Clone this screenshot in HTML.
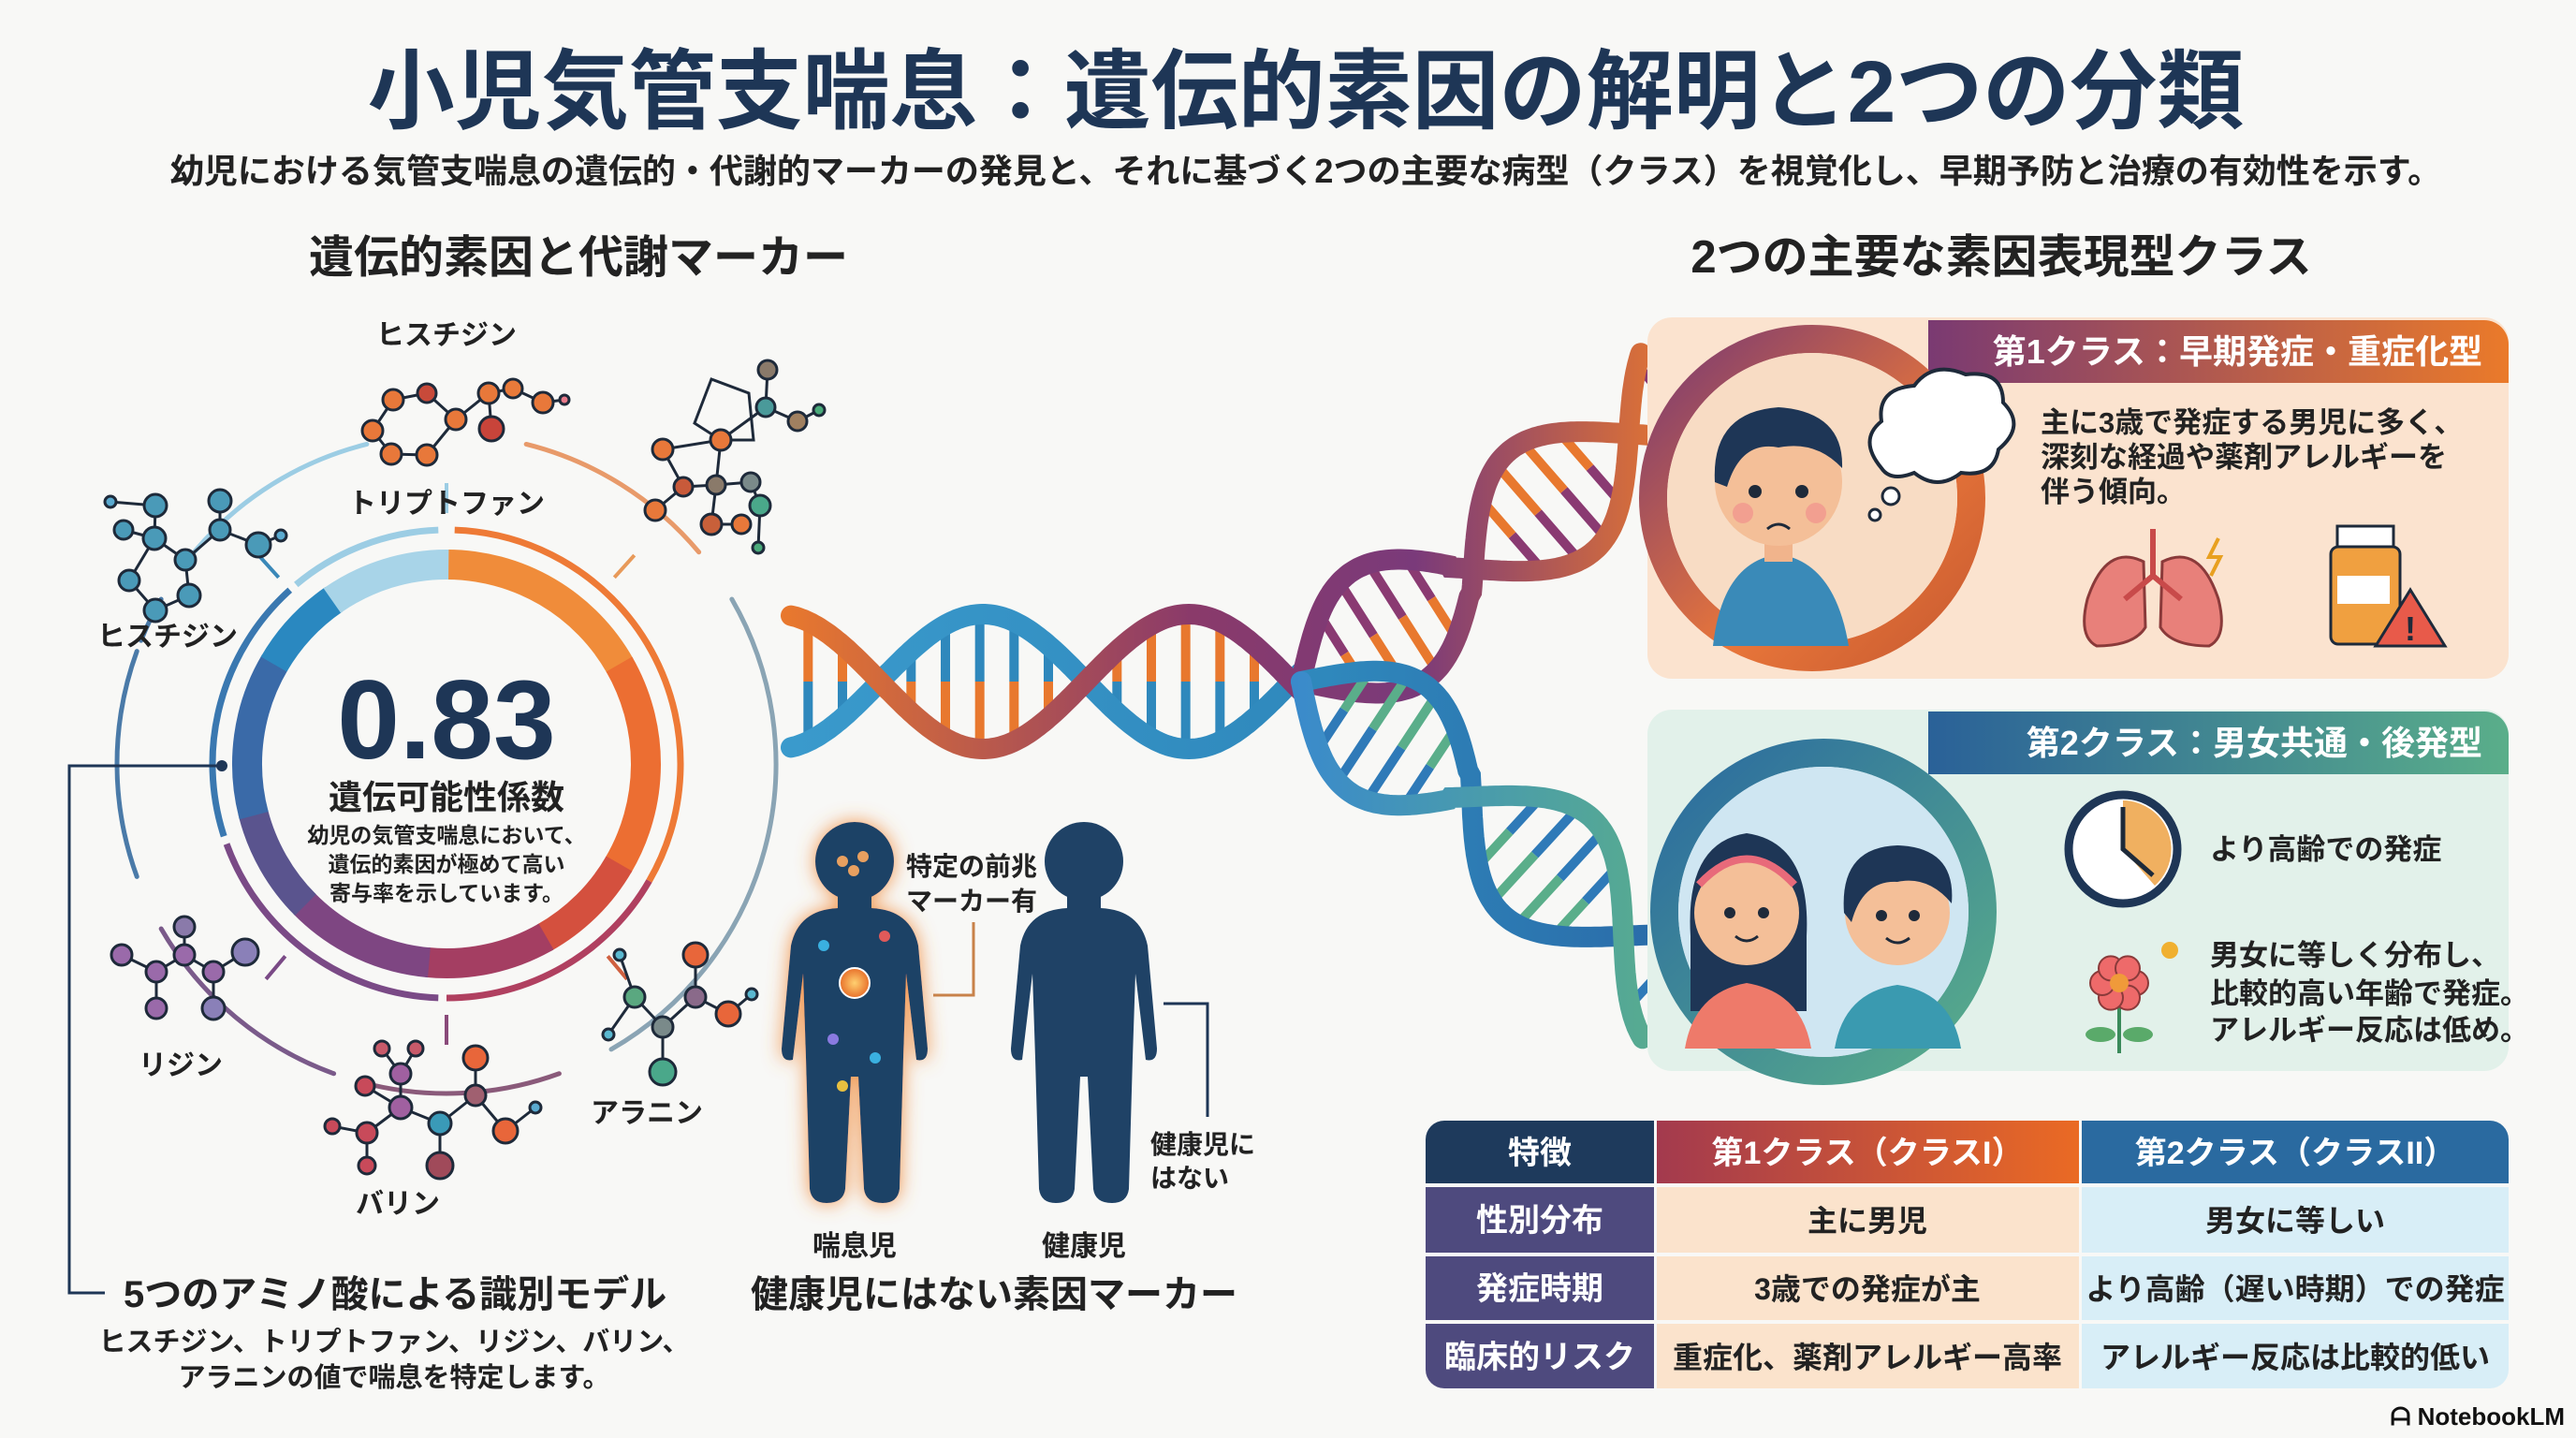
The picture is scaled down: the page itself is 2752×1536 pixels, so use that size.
<!DOCTYPE html>
<html><head><meta charset="utf-8">
<style>
html,body{margin:0;padding:0;background:#f8f8f6;}
svg{display:block;}
text{font-family:"Liberation Sans","Noto Sans CJK JP",sans-serif;font-weight:700;}
</style></head>
<body>
<svg id="s" width="2752" height="1536" viewBox="0 0 2752 1536" xmlns="http://www.w3.org/2000/svg">
<defs>
<linearGradient id="h1" x1="0" x2="1"><stop offset="0" stop-color="#7a3a72"/><stop offset="1" stop-color="#ea7a2a"/></linearGradient>
<linearGradient id="h2" x1="0" x2="1"><stop offset="0" stop-color="#2a6198"/><stop offset="1" stop-color="#5aae8a"/></linearGradient>
<linearGradient id="t2" x1="0" x2="1"><stop offset="0" stop-color="#a33a4e"/><stop offset="1" stop-color="#ea6a24"/></linearGradient>
<linearGradient id="r1" x1="0" y1="0" x2="1" y2="1"><stop offset="0" stop-color="#7a3a72"/><stop offset="0.6" stop-color="#e8763a"/><stop offset="1" stop-color="#c85a30"/></linearGradient>
<linearGradient id="r2" x1="0" y1="0" x2="1" y2="1"><stop offset="0" stop-color="#2a6aa0"/><stop offset="1" stop-color="#5aae8a"/></linearGradient>
<linearGradient id="sA" gradientUnits="userSpaceOnUse" x1="840" y1="0" x2="1800" y2="0"><stop offset="0" stop-color="#e8782e"/><stop offset="0.45" stop-color="#8a3a6a"/><stop offset="0.7" stop-color="#7a3a7a"/><stop offset="1" stop-color="#e8782e"/></linearGradient>
<linearGradient id="sB" gradientUnits="userSpaceOnUse" x1="840" y1="0" x2="1800" y2="0"><stop offset="0" stop-color="#3a9acc"/><stop offset="0.6" stop-color="#2f88bc"/><stop offset="1" stop-color="#2a6aa8"/></linearGradient>
<linearGradient id="sC" gradientUnits="userSpaceOnUse" x1="1380" y1="0" x2="1800" y2="0"><stop offset="0" stop-color="#3a8acc"/><stop offset="1" stop-color="#5aae8a"/></linearGradient>
<filter id="glow" x="-30%" y="-30%" width="160%" height="160%"><feDropShadow dx="0" dy="0" stdDeviation="10" flood-color="#f08a3a" flood-opacity="0.9"/></filter>
<radialGradient id="orb"><stop offset="0" stop-color="#ffd070"/><stop offset="1" stop-color="#e8702a"/></radialGradient>
</defs>

<text x="1395" y="130" font-size="93" fill="#1e3656" text-anchor="middle">小児気管支喘息：遺伝的素因の解明と2つの分類</text>
<text x="1395" y="195" font-size="36" fill="#222" text-anchor="middle">幼児における気管支喘息の遺伝的・代謝的マーカーの発見と、それに基づく2つの主要な病型（クラス）を視覚化し、早期予防と治療の有効性を示す。</text>
<text x="618" y="291" font-size="48" fill="#222" text-anchor="middle">遺伝的素因と代謝マーカー</text>
<text x="2138" y="291" font-size="49" fill="#222" text-anchor="middle">2つの主要な素因表現型クラス</text>

<g id="left"></g>
<g id="dna"></g>

<text x="477" y="810" font-size="120" fill="#1e3656" text-anchor="middle" font-weight="900">0.83</text>
<text x="477" y="864" font-size="36" fill="#222" text-anchor="middle">遺伝可能性係数</text>
<text x="477" y="900" font-size="23" fill="#222" text-anchor="middle">幼児の気管支喘息において、</text>
<text x="477" y="931" font-size="23" fill="#222" text-anchor="middle">遺伝的素因が極めて高い</text>
<text x="477" y="962" font-size="23" fill="#222" text-anchor="middle">寄与率を示しています。</text>

<g font-size="30" fill="#222" text-anchor="middle">
<text x="477" y="368">ヒスチジン</text>
<text x="477" y="548">トリプトファン</text>
<text x="179" y="690">ヒスチジン</text>
<text x="193" y="1148">リジン</text>
<text x="425" y="1296">バリン</text>
<text x="691" y="1199">アラニン</text>
</g>

<polyline points="237,818 74,818 74,1381 112,1381" fill="none" stroke="#1e3656" stroke-width="3"/>
<circle cx="237" cy="818" r="6" fill="#1e3656"/>
<text x="132" y="1396" font-size="40" fill="#222">5つのアミノ酸による識別モデル</text>
<text x="421" y="1443" font-size="29" fill="#222" text-anchor="middle">ヒスチジン、トリプトファン、リジン、バリン、</text>
<text x="421" y="1481" font-size="29" fill="#222" text-anchor="middle">アラニンの値で喘息を特定します。</text>

<g id="kids"></g>
<text x="913" y="1341" font-size="30" fill="#222" text-anchor="middle">喘息児</text>
<text x="1158" y="1341" font-size="30" fill="#222" text-anchor="middle">健康児</text>
<text x="1062" y="1396" font-size="40" fill="#222" text-anchor="middle">健康児にはない素因マーカー</text>
<text x="968" y="935" font-size="28" fill="#222">特定の前兆</text>
<text x="968" y="972" font-size="28" fill="#222">マーカー有</text>
<polyline points="997,1063 1040,1063 1040,985" fill="none" stroke="#c8824a" stroke-width="3"/>
<text x="1229" y="1232" font-size="28" fill="#222">健康児に</text>
<text x="1229" y="1268" font-size="28" fill="#222">はない</text>
<polyline points="1243,1072 1290,1072 1290,1193" fill="none" stroke="#1e3656" stroke-width="3"/>

<rect x="1760" y="339" width="920" height="386" rx="26" fill="#fbe3cf"/>
<path d="M2060 342 H2654 a26 26 0 0 1 26 26 V409 H2060 Z" fill="url(#h1)"/>
<text x="2652" y="388" font-size="36" fill="#fff" text-anchor="end">第1クラス：早期発症・重症化型</text>
<g font-size="31" fill="#222">
<text x="2180" y="462">主に3歳で発症する男児に多く、</text>
<text x="2180" y="499">深刻な経過や薬剤アレルギーを</text>
<text x="2180" y="536">伴う傾向。</text>
</g>
<rect x="1760" y="758" width="920" height="386" rx="26" fill="#e2f1ea"/>
<path d="M2060 760 H2654 a26 26 0 0 1 26 26 V827 H2060 Z" fill="url(#h2)"/>
<text x="2652" y="806" font-size="36" fill="#fff" text-anchor="end">第2クラス：男女共通・後発型</text>
<g font-size="31" fill="#222">
<text x="2361" y="918">より高齢での発症</text>
<text x="2361" y="1031">男女に等しく分布し、</text>
<text x="2361" y="1072">比較的高い年齢で発症。</text>
<text x="2361" y="1111">アレルギー反応は低め。</text>
</g>

<g id="pics"></g>

<g>
<path d="M1543 1197 H1767 V1264 H1523 V1217 a20 20 0 0 1 20 -20Z" fill="#1e3a5c"/>
<rect x="1770" y="1197" width="451" height="67" fill="url(#t2)"/>
<path d="M2224 1197 H2660 a20 20 0 0 1 20 20 V1264 H2224Z" fill="#2a6aa0"/>
<rect x="1523" y="1268" width="244" height="70" fill="#4e4a7e"/>
<rect x="1523" y="1342" width="244" height="68" fill="#4e4a7e"/>
<path d="M1523 1414 H1767 V1483 H1543 a20 20 0 0 1 -20 -20Z" fill="#4e4a7e"/>
<rect x="1770" y="1268" width="451" height="70" fill="#fbe3cc"/>
<rect x="1770" y="1342" width="451" height="68" fill="#fbe3cc"/>
<rect x="1770" y="1414" width="451" height="69" fill="#fbe3cc"/>
<rect x="2224" y="1268" width="456" height="70" fill="#d8eef7"/>
<rect x="2224" y="1342" width="456" height="68" fill="#d8eef7"/>
<path d="M2224 1414 H2680 V1463 a20 20 0 0 1 -20 20 H2224Z" fill="#d8eef7"/>
<g font-size="34" text-anchor="middle">
<text x="1645" y="1243" fill="#fff">特徴</text>
<text x="1995" y="1243" fill="#fff">第1クラス（クラスI）</text>
<text x="2452" y="1243" fill="#fff">第2クラス（クラスII）</text>
<text x="1645" y="1315" fill="#fff">性別分布</text>
<text x="1645" y="1388" fill="#fff">発症時期</text>
<text x="1645" y="1461" fill="#fff">臨床的リスク</text>
<text x="1995" y="1315" fill="#222" font-size="32">主に男児</text>
<text x="1995" y="1388" fill="#222" font-size="32">3歳での発症が主</text>
<text x="1995" y="1461" fill="#222" font-size="32">重症化、薬剤アレルギー高率</text>
<text x="2452" y="1315" fill="#222" font-size="32">男女に等しい</text>
<text x="2452" y="1388" fill="#222" font-size="32">より高齢（遅い時期）での発症</text>
<text x="2452" y="1461" fill="#222" font-size="32">アレルギー反応は比較的低い</text>
</g>
</g>
<text x="2740" y="1522" font-size="26" fill="#111" text-anchor="end" font-weight="400">ᗩ NotebookLM</text>
</svg>
<script>
var NS="http://www.w3.org/2000/svg";
function el(p,t,a){var e=document.createElementNS(NS,t);for(var k in a)e.setAttribute(k,a[k]);p.appendChild(e);return e;}
var L=document.getElementById('left');
function arc(cx,cy,r,a0,a1,col,w,cap){var p=function(a){a=(a-90)*Math.PI/180;return [cx+r*Math.cos(a),cy+r*Math.sin(a)];};var s=p(a0),e=p(a1);var lg=(a1-a0)>180?1:0;
el(L,'path',{d:'M'+s[0]+' '+s[1]+' A'+r+' '+r+' 0 '+lg+' 1 '+e[0]+' '+e[1],fill:'none',stroke:col,'stroke-width':w,'stroke-linecap':cap||'butt'});}
var cx=477,cy=816;
var segs=[[0,60,'#f08c3a'],[60,120,'#ec6e32'],[120,150,'#d4503e'],[150,185,'#a43e62'],[185,225,'#7e4682'],[225,255,'#5a548e'],[255,300,'#3a6aa8'],[300,325,'#2a88c0'],[325,360,'#a8d4e8']];
segs.forEach(function(s){arc(cx,cy,213,s[0],s[1]+0.6,s[2],32);});
var segs2=[[2,120,'#ee7a36'],[120,180,'#b04060'],[182,250,'#7a4a86'],[252,318,'#3a78b0'],[320,358,'#9ccde4']];
segs2.forEach(function(s){arc(cx,cy,250,s[0],s[1],s[2],7);});
[[-50,-14,'#9ccde4'],[14,50,'#e89a6a'],[60,150,'#8aa4b4'],[200,240,'#7a5a8a'],[160,195,'#8a5a7a'],[250,290,'#4a7aa8'],[292,300,'#4a7aa8']].forEach(function(s){arc(cx,cy,352,s[0]<0?s[0]+360:s[0],s[1]<0?s[1]+360:s[1],s[2],5,'round');});
[[0,'#9ccde4'],[-42,'#3a88b8'],[42,'#e89a5a'],[140,'#d06040'],[180,'#8a4a7a'],[220,'#7a4a86']].forEach(function(t){var a=(t[0]-90)*Math.PI/180;el(L,'line',{x1:cx+268*Math.cos(a),y1:cy+268*Math.sin(a),x2:cx+300*Math.cos(a),y2:cy+300*Math.sin(a),stroke:t[1],'stroke-width':4});});
function mol(nodes,edges,dx,dy){dx=dx||0;dy=dy||0;nodes=nodes.map(function(n){return [n[0]+dx,n[1]+dy,n[2],n[3]];});
edges.forEach(function(e){var a=nodes[e[0]],b=nodes[e[1]];el(L,'line',{x1:a[0],y1:a[1],x2:b[0],y2:b[1],stroke:'#1e2a3a','stroke-width':3});});
nodes.forEach(function(n){el(L,'circle',{cx:n[0],cy:n[1],r:n[2],fill:n[3],stroke:'#1e2a3a','stroke-width':3});});}
mol([[420,427,11,'#e8783a'],[456,420,10,'#c84a3a'],[487,448,11,'#e8783a'],[456,486,11,'#e8783a'],[418,485,11,'#e8783a'],[398,460,11,'#e8783a'],[522,420,11,'#e8783a'],[548,415,10,'#e87a3a'],[580,430,11,'#e8783a'],[525,458,13,'#c8443a'],[603,427,5,'#e87a8a']],
[[0,1],[1,2],[2,3],[3,4],[4,5],[5,0],[2,6],[6,9],[6,7],[7,8],[8,10]]);
mol([[132,566,10,'#4a9ab8'],[165,575,12,'#4a9ab8'],[198,598,11,'#4a9ab8'],[202,636,12,'#4a9ab8'],[166,652,12,'#4a9ab8'],[138,620,11,'#4a9ab8'],[166,540,12,'#4a9ab8'],[235,566,11,'#4a9ab8'],[235,535,12,'#4a9ab8'],[276,582,13,'#4a9ab8'],[118,536,6,'#5aaad0'],[300,572,6,'#5aaad0']],
[[0,1],[1,2],[2,3],[3,4],[4,5],[5,1],[1,6],[2,7],[7,8],[7,9],[6,10],[9,11]]);
el(L,'polygon',{points:'742,452 760,405 800,420 805,470 770,470',fill:'none',stroke:'#1e2a3a','stroke-width':3});
mol([[770,430,11,'#e8783a'],[708,440,11,'#e8783a'],[730,480,10,'#c85a3a'],[765,478,10,'#8a7a6a'],[700,505,11,'#e8783a'],[760,520,11,'#c8603a'],[802,475,10,'#7a8a8a'],[812,500,11,'#4aa88a'],[792,520,10,'#e8783a'],[820,355,10,'#8a7a6a'],[818,395,10,'#4a9a9a'],[852,410,10,'#a08060'],[875,398,6,'#4aaa7a'],[810,545,6,'#4aaa7a']],
[[0,1],[1,2],[2,3],[3,0],[2,4],[3,5],[3,6],[6,7],[0,10],[10,9],[10,11],[11,12],[5,8],[7,13]],0,40);
mol([[130,1065,11,'#9a6aaa'],[167,1083,11,'#9a6aaa'],[197,1065,11,'#9a6aaa'],[197,1035,11,'#8a7aaa'],[228,1083,11,'#9a6aaa'],[262,1062,14,'#8a80b8'],[167,1122,11,'#9a6aaa'],[228,1122,12,'#8a80b8']],
[[0,1],[1,2],[2,3],[2,4],[4,5],[1,6],[4,7]],0,-45);
mol([[390,1245,10,'#c84a5a'],[428,1268,12,'#a060a0'],[428,1232,11,'#a060a0'],[408,1205,8,'#c85a6a'],[444,1205,8,'#c85a6a'],[470,1285,12,'#3a9ab8'],[508,1255,11,'#a06070'],[508,1215,13,'#e8663a'],[540,1293,13,'#e8663a'],[470,1330,14,'#a04a5a'],[392,1295,11,'#c84a5a'],[392,1330,9,'#c84a5a'],[355,1288,8,'#c84a5a'],[572,1268,6,'#5aaad0']],
[[0,1],[1,2],[2,3],[2,4],[1,5],[5,6],[6,7],[6,8],[5,9],[1,10],[10,11],[10,12],[8,13]],0,-85);
mol([[663,1130,11,'#5aa880'],[693,1162,11,'#7a8a8a'],[728,1130,11,'#8a6a8a'],[728,1085,13,'#e8663a'],[763,1148,13,'#e8663a'],[693,1210,14,'#4aa88a'],[647,1085,6,'#5ab8d0'],[635,1170,6,'#5ab8d0'],[788,1127,6,'#5ab8d0']],
[[0,1],[1,2],[2,3],[2,4],[1,5],[0,6],[0,7],[4,8]],15,-65);

var D=document.getElementById('dna');
function helix(pts,amp,hp,ph0,colA,colB,w,rung){
 var N=200,A=[],B=[];var len=0,segL=[];
 for(var i=0;i<pts.length-1;i++){var d=Math.hypot(pts[i+1][0]-pts[i][0],pts[i+1][1]-pts[i][1]);segL.push(d);len+=d;}
 function at(s){var acc=0;for(var i=0;i<segL.length;i++){if(s<=acc+segL[i]||i==segL.length-1){var t=(s-acc)/segL[i];var p=pts[i],q=pts[i+1];var dx=(q[0]-p[0])/segL[i],dy=(q[1]-p[1])/segL[i];return [p[0]+t*(q[0]-p[0]),p[1]+t*(q[1]-p[1]),-dy,dx];}acc+=segL[i];}}
 for(var k=0;k<=N;k++){var s=len*k/N;var P=at(s);var ph=ph0+Math.PI*s/hp;var o=amp*Math.sin(ph);A.push([P[0]+P[2]*o,P[1]+P[3]*o]);B.push([P[0]-P[2]*o,P[1]-P[3]*o]);}
 var rs=hp/6;
 for(var s=rs/2;s<len;s+=rs){var P=at(s);var ph=ph0+Math.PI*s/hp;var o=amp*Math.sin(ph);if(Math.abs(o)<amp*0.35)continue;
  var a=[P[0]+P[2]*o,P[1]+P[3]*o],b=[P[0]-P[2]*o,P[1]-P[3]*o];
  el(D,'line',{x1:a[0],y1:a[1],x2:P[0],y2:P[1],stroke:rung[0],'stroke-width':10});
  el(D,'line',{x1:P[0],y1:P[1],x2:b[0],y2:b[1],stroke:rung[1],'stroke-width':10});}
 function path(arr){return 'M'+arr.map(function(p){return p[0].toFixed(1)+' '+p[1].toFixed(1);}).join(' L');}
 el(D,'path',{d:path(B),fill:'none',stroke:colB,'stroke-width':w,'stroke-linecap':'round'});
 el(D,'path',{d:path(A),fill:'none',stroke:colA,'stroke-width':w,'stroke-linecap':'round'});
}
helix([[845,728],[1390,728]],72,220,-Math.PI*95/220,'url(#sA)','url(#sB)',22,['#e8782e','#2f88bc']);
helix([[1390,728],[1560,620],[1790,420]],70,220,Math.PI*1,'url(#sA)','url(#sA)',22,['#8a3a72','#e8782e']);
helix([[1390,728],[1560,840],[1800,1060]],70,220,0,'url(#sC)','url(#sB)',22,['#2f7ab8','#5aae8a']);

var P=document.getElementById('pics');
function g(t,a){return el(P,t,a);}
g('circle',{cx:1936,cy:532,r:170,fill:'none',stroke:'url(#r1)','stroke-width':30});
g('circle',{cx:1936,cy:532,r:155,fill:'#f8dcc4'});
g('path',{d:'M1830 690 Q1840 600 1900 592 Q1960 600 1975 690Z',fill:'#3a8ab8'});
g('rect',{x:1885,y:570,width:30,height:30,fill:'#f1b48c'});
g('circle',{cx:1900,cy:515,r:68,fill:'#f4bf98'});
g('path',{d:'M1832 515 Q1828 440 1900 435 Q1970 440 1968 500 Q1940 470 1900 478 Q1860 470 1845 520Z',fill:'#1e3656'});
g('circle',{cx:1875,cy:525,r:7,fill:'#1e2a3a'});g('circle',{cx:1925,cy:525,r:7,fill:'#1e2a3a'});
g('circle',{cx:1862,cy:548,r:11,fill:'#f08a8a',opacity:0.6});g('circle',{cx:1940,cy:548,r:11,fill:'#f08a8a',opacity:0.6});
g('path',{d:'M1888 565 Q1900 555 1912 565',fill:'none',stroke:'#1e2a3a','stroke-width':3});
g('path',{d:'M2010 500 Q1985 470 2010 450 Q2005 415 2045 412 Q2065 385 2100 400 Q2140 395 2140 430 Q2165 455 2135 480 Q2130 510 2095 505 Q2070 525 2045 505 Q2020 515 2010 500Z',fill:'#fff',stroke:'#1e2a3a','stroke-width':4});
g('circle',{cx:2020,cy:530,r:9,fill:'#fff',stroke:'#1e2a3a','stroke-width':3});
g('circle',{cx:2003,cy:550,r:6,fill:'#fff',stroke:'#1e2a3a','stroke-width':3});
g('path',{d:'M2290 600 Q2250 580 2230 640 Q2220 680 2240 690 Q2280 690 2292 670Z',fill:'#e8807a',stroke:'#8a3a3a','stroke-width':3});
g('path',{d:'M2310 600 Q2350 580 2370 640 Q2380 680 2360 690 Q2320 690 2308 670Z',fill:'#e8807a',stroke:'#8a3a3a','stroke-width':3});
g('path',{d:'M2300 565 V615 M2300 615 L2270 640 M2300 615 L2330 640',fill:'none',stroke:'#c84a4a','stroke-width':6});
g('path',{d:'M2370 575 L2360 595 L2372 595 L2362 615',fill:'none',stroke:'#e8a020','stroke-width':4});
g('rect',{x:2497,y:562,width:60,height:22,fill:'#fff',stroke:'#1e2a3a','stroke-width':3});
g('rect',{x:2490,y:584,width:74,height:104,rx:8,fill:'#f0a040',stroke:'#1e2a3a','stroke-width':3});
g('rect',{x:2497,y:615,width:56,height:30,fill:'#fff'});
g('polygon',{points:'2575,630 2612,690 2538,690',fill:'#e85a4a',stroke:'#1e2a3a','stroke-width':3});
g('text',{x:2575,y:684,'font-size':36,fill:'#1e2a3a','text-anchor':'middle'}).textContent='!';
g('circle',{cx:1948,cy:974,r:170,fill:'none',stroke:'url(#r2)','stroke-width':30});
g('circle',{cx:1948,cy:974,r:155,fill:'#cfe6f2'});
g('path',{d:'M1806 1000 Q1800 900 1866 890 Q1935 900 1930 1000 L1930 1080 L1806 1080Z',fill:'#1e3656'});
g('path',{d:'M1800 1120 Q1810 1060 1866 1050 Q1925 1060 1935 1120Z',fill:'#ee7a6a'});
g('circle',{cx:1866,cy:975,r:56,fill:'#f4bf98'});
g('path',{d:'M1815 945 Q1866 890 1917 945',fill:'none',stroke:'#e86a7a','stroke-width':8});
g('circle',{cx:1848,cy:975,r:6,fill:'#1e2a3a'});g('circle',{cx:1884,cy:975,r:6,fill:'#1e2a3a'});
g('path',{d:'M1854 1000 Q1866 1010 1878 1000',fill:'none',stroke:'#1e2a3a','stroke-width':3});
g('path',{d:'M1960 1120 Q1970 1060 2027 1052 Q2085 1060 2095 1120Z',fill:'#3a9ab0'});
g('circle',{cx:2027,cy:975,r:56,fill:'#f4bf98'});
g('path',{d:'M1970 975 Q1965 905 2027 903 Q2090 905 2085 965 Q2060 935 2027 942 Q1990 940 1978 985Z',fill:'#1e3656'});
g('circle',{cx:2010,cy:978,r:6,fill:'#1e2a3a'});g('circle',{cx:2045,cy:978,r:6,fill:'#1e2a3a'});
g('path',{d:'M2015 1002 Q2027 1012 2040 1002',fill:'none',stroke:'#1e2a3a','stroke-width':3});
g('circle',{cx:2268,cy:907,r:58,fill:'#fff',stroke:'#1e3656','stroke-width':9});
g('path',{d:'M2268 907 L2268 855 A52 52 0 0 1 2302 946Z',fill:'#f0b060'});
g('path',{d:'M2268 862 V907 L2300 935',fill:'none',stroke:'#1e2a3a','stroke-width':5});
g('path',{d:'M2264 1065 V1125',stroke:'#3a8a5a','stroke-width':4});
g('ellipse',{cx:2244,cy:1105,rx:16,ry:8,fill:'#5aaa6a'});g('ellipse',{cx:2284,cy:1105,rx:16,ry:8,fill:'#5aaa6a'});
[0,60,120,180,240,300].forEach(function(a){var r=a*Math.PI/180;g('circle',{cx:2264+18*Math.cos(r),cy:1050+18*Math.sin(r),r:13,fill:'#ee6a6a',stroke:'#8a3a3a','stroke-width':2});});
g('circle',{cx:2264,cy:1050,r:10,fill:'#f09a3a'});
g('circle',{cx:2318,cy:1015,r:9,fill:'#f0b030'});

var K=document.getElementById('kids');
function kid(x,y,s,glow){var grp=el(K,'g',{transform:'translate('+x+' '+y+') scale('+s+')',filter:glow?'url(#glow)':''});
 el(grp,'circle',{cx:0,cy:-160,r:42,fill:'#1f4266'});
 el(grp,'path',{d:'M-18 -125 H18 V-110 Q60 -108 68 -70 L78 40 Q78 55 66 52 L55 -40 L52 50 L48 190 Q46 205 30 205 Q12 205 10 190 L4 70 H-4 L-10 190 Q-12 205 -30 205 Q-46 205 -48 190 L-52 50 L-55 -40 L-66 52 Q-78 55 -78 40 L-68 -70 Q-60 -108 -18 -110Z',fill:'#1f4266'});
 return grp;}
kid(913,1080,1,true);
kid(1158,1080,1,false);
el(K,'circle',{cx:913,cy:1050,r:16,fill:'url(#orb)',stroke:'#fff','stroke-width':2});
[[900,920,'#e8a060'],[922,915,'#e8a060'],[912,930,'#e8a060'],[880,1010,'#3ab0e0'],[945,1000,'#e05a5a'],[890,1110,'#8a7ae0'],[935,1130,'#3ab0e0'],[900,1160,'#e8c040']].forEach(function(p){el(K,'circle',{cx:p[0],cy:p[1],r:6,fill:p[2]});});
</script>
</body></html>
